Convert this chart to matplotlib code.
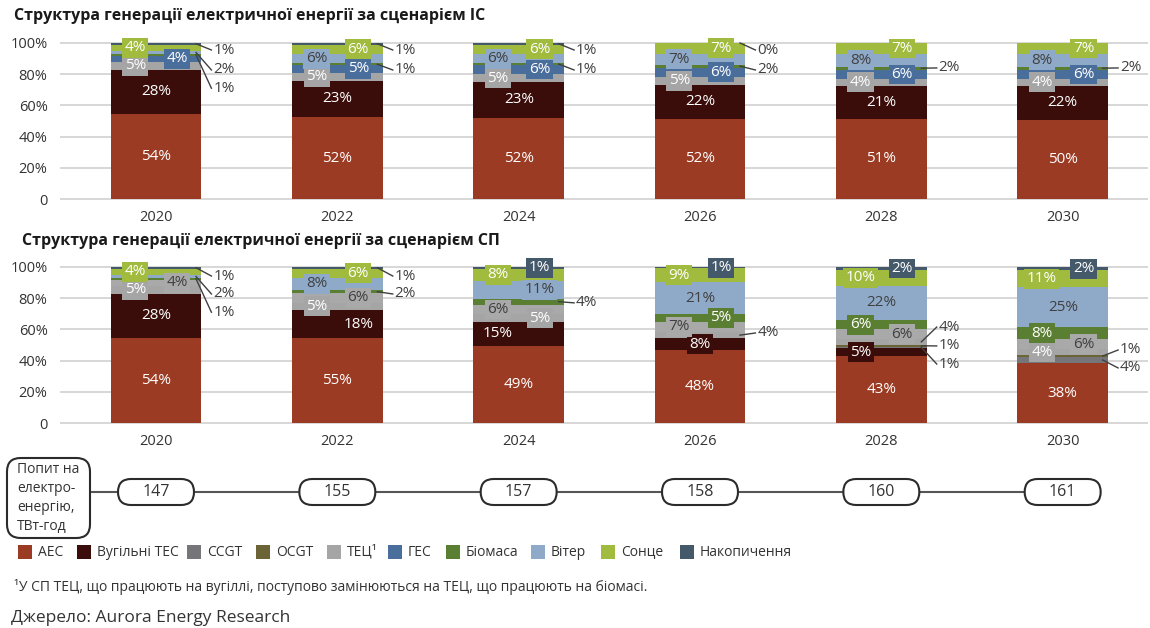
import numpy as np
import matplotlib
matplotlib.use('Agg')
import matplotlib.pyplot as plt
from matplotlib.patches import FancyBboxPatch, Rectangle

plt.rcParams['font.family'] = ['Open Sans', 'DejaVu Sans']

years = ['2020', '2022', '2024', '2026', '2028', '2030']
series = ['АЕС', 'Вугільні ТЕС', 'CCGT', 'OCGT', 'ТЕЦ¹', 'ГЕС', 'Біомаса', 'Вітер', 'Сонце', 'Накопичення']
colors = ['#9C3B23', '#3A0D0A', '#76767A', '#6A6437', '#A5A5A5',
          '#4A6E9C', '#5B7F32', '#8FAAC9', '#A0BB3D', '#44596A']

# Scenario ІС, % of generation
ic_aes = [54, 52, 52, 52, 51, 50]
ic_coal = [28, 23, 23, 22, 21, 22]
ic_ccgt = [0, 0, 0, 0, 0, 0]
ic_ocgt = [0, 0, 0, 0, 0, 0]
ic_chp = [5, 5, 5, 5, 4, 4]
ic_hydro = [4, 5, 6, 6, 6, 6]
ic_bio = [1, 1, 1, 2, 2, 2]
ic_wind = [2, 6, 6, 7, 8, 8]
ic_solar = [4, 6, 6, 7, 7, 7]
ic_storage = [1, 1, 1, 0, 0, 0]

# Scenario СП, % of generation
sp_aes = [54, 55, 49, 48, 43, 38]
sp_coal = [28, 18, 15, 8, 5, 0]
sp_ccgt = [0, 0, 0, 0, 1, 4]
sp_ocgt = [0, 0, 0, 0, 1, 1]
sp_chp = [5, 5, 5, 4, 4, 4]
sp_hydro = [4, 6, 6, 7, 6, 6]
sp_bio = [1, 2, 4, 5, 6, 8]
sp_wind = [2, 8, 11, 21, 22, 25]
sp_solar = [4, 6, 8, 9, 10, 11]
sp_storage = [1, 1, 1, 1, 2, 2]

# electricity demand, TWh
demand = [147, 155, 157, 158, 160, 161]

ic_data = [ic_aes, ic_coal, ic_ccgt, ic_ocgt, ic_chp, ic_hydro, ic_bio, ic_wind, ic_solar, ic_storage]
sp_data = [sp_aes, sp_coal, sp_ccgt, sp_ocgt, sp_chp, sp_hydro, sp_bio, sp_wind, sp_solar, sp_storage]

# label placement: c=centre, l=left, r=right, '-'=none / outside
ic_layout = ['cccccc', 'cccccc', '------', '------', 'llllll',
             'rrrrrr', '------', '-lllll', 'lrrrrr', '------']
sp_layout = ['cccccc', 'crlcl-', '------', '------', 'llr--l',
             'rrllrr', '---rll', '-lrccc', 'lrllll', '--rrrr']
# outside labels: (bar, series, label height)
ic_outside = [(0, 9, 95.5), (0, 7, 82.7), (0, 6, 71),
              (1, 9, 95.5), (1, 6, 82.7), (2, 9, 95.5), (2, 6, 82.7),
              (3, 9, 95.5), (3, 6, 82.7), (4, 6, 84), (5, 6, 84)]
sp_outside = [(0, 9, 94.2), (0, 7, 82.7), (0, 6, 71),
              (1, 9, 94.2), (1, 6, 82.7), (2, 6, 77), (3, 4, 57.7),
              (4, 4, 61.5), (4, 3, 49.4), (4, 2, 37.8),
              (5, 3, 46.8), (5, 2, 35.3)]

W, H = 1150, 628
fig = plt.figure(figsize=(W / 100, H / 100), dpi=100)
DARK = '#404040'
offsets = {'c': 0.0, 'l': -0.115, 'r': 0.115}
BW = 0.5


def draw(ax, data, layout, outside, hydro_color=None):
    vals = np.array(data, dtype=float)
    share = vals / vals.sum(axis=0) * 100
    x = np.arange(len(years))
    bottoms = np.zeros(len(years))
    mids = np.zeros_like(share)
    for k in range(len(series)):
        col = colors[k]
        txt_col = 'white'
        if k == 7:
            txt_col = DARK
        if k == 5 and hydro_color:
            col = hydro_color
            txt_col = DARK
        ax.bar(x, share[k], bottom=bottoms, width=BW, color=col, zorder=2)
        mids[k] = bottoms + share[k] / 2
        for i in range(len(years)):
            code = layout[k][i]
            if code in offsets:
                ax.text(x[i] + offsets[code], mids[k][i], f'{data[k][i]}%',
                        ha='center', va='center', fontsize=11, color=txt_col, zorder=5,
                        bbox=dict(boxstyle='square,pad=0.16', fc=col, ec='none'))
        bottoms += share[k]
    for i, k, ly in outside:
        x0 = x[i] + BW / 2 - 0.03
        x1 = x[i] + BW / 2 + 0.055
        ax.plot([x0, x1], [mids[k][i], ly], color=DARK, lw=1, zorder=4, clip_on=False)
        ax.text(x1 + 0.01, ly, f'{data[k][i]}%', ha='left', va='center',
                fontsize=11, color=DARK, zorder=5)

    ax.set_xlim(-0.53, 5.47)
    ax.set_ylim(-0.5, 100.5)
    ax.set_xticks(x)
    ax.set_xticklabels(years)
    ax.set_yticks([0, 20, 40, 60, 80, 100])
    ax.set_yticklabels(['0', '20%', '40%', '60%', '80%', '100%'])
    ax.tick_params(length=0, labelsize=10.5, colors='#333333')
    ax.tick_params(axis='x', pad=7)
    ax.tick_params(axis='y', pad=9)
    ax.yaxis.grid(True, color='#D4D4D4', lw=1.3)
    ax.set_axisbelow(True)
    for s in ax.spines.values():
        s.set_visible(False)


def px_axes(left, top, right, bottom):
    return fig.add_axes([left / W, 1 - bottom / H, (right - left) / W, (bottom - top) / H])


ax1 = px_axes(60, 42.2, 1148, 199.8)
draw(ax1, ic_data, ic_layout, ic_outside)
ax2 = px_axes(60, 266.2, 1148, 423.8)
draw(ax2, sp_data, sp_layout, sp_outside, hydro_color='#A9A9A9')

fig.text(14 / W, 1 - 16 / H, 'Структура генерації електричної енергії за сценарієм ІС',
         fontsize=11.5, fontweight='bold', va='center', color='#1a1a1a')
fig.text(22 / W, 1 - 241 / H, 'Структура генерації електричної енергії за сценарієм СП',
         fontsize=11.5, fontweight='bold', va='center', color='#1a1a1a')

# demand row
unit = 1088 / 6.0
axd = px_axes(0, 450, W, 545)
axd.set_xlim(-156 / unit, (W - 156) / unit)
axd.set_ylim(0, 95 / unit)
axd.axis('off')
yc = (545 - 492) / unit
bx0, bx1 = -156 / unit + 7 / unit, -156 / unit + 90 / unit
by0, by1 = (545 - 538) / unit, (545 - 458) / unit
axd.add_patch(FancyBboxPatch((bx0, by0), bx1 - bx0, by1 - by0,
                             boxstyle='round,pad=0,rounding_size=0.075',
                             fc='white', ec='#2b2b2b', lw=1.5, zorder=3))
axd.text(bx0 + 10 / unit, (by0 + by1) / 2, 'Попит на\nелектро-\nенергію,\nТВт-год',
         ha='left', va='center', fontsize=10, linespacing=1.35, color='#333333', zorder=4)
pw, ph = 76 / unit, 26 / unit
axd.plot([bx1, len(demand) - 1 - pw / 2], [yc, yc], color='#555555', lw=1.5, zorder=1)
for i, d in enumerate(demand):
    axd.add_patch(FancyBboxPatch((i - pw / 2, yc - ph / 2), pw, ph,
                                 boxstyle=f'round,pad=0,rounding_size={ph / 2}',
                                 fc='white', ec='#2b2b2b', lw=1.5, zorder=3))
    axd.text(i, yc, str(d), ha='center', va='center', fontsize=11.5, color='#333333', zorder=4)

# legend
sq_x = [18, 77, 187, 256, 327, 388, 446, 531, 601, 680]
for k, name in enumerate(series):
    fig.patches.append(Rectangle((sq_x[k] / W, 1 - 559 / H), 14 / W, 14 / H,
                                 transform=fig.transFigure, fc=colors[k], ec='none'))
    fig.text((sq_x[k] + 20) / W, 1 - 552 / H, name, fontsize=10, va='center', color='#333333')

fig.text(14 / W, 1 - 587 / H,
         '¹У СП ТЕЦ, що працюють на вугіллі, поступово замінюються на ТЕЦ, що працюють на біомасі.',
         fontsize=10, va='center', color='#333333')
fig.text(11 / W, 1 - 618 / H, 'Джерело: Aurora Energy Research',
         fontsize=12.5, va='center', color='#333333')

fig.savefig('out.png', dpi=100)
